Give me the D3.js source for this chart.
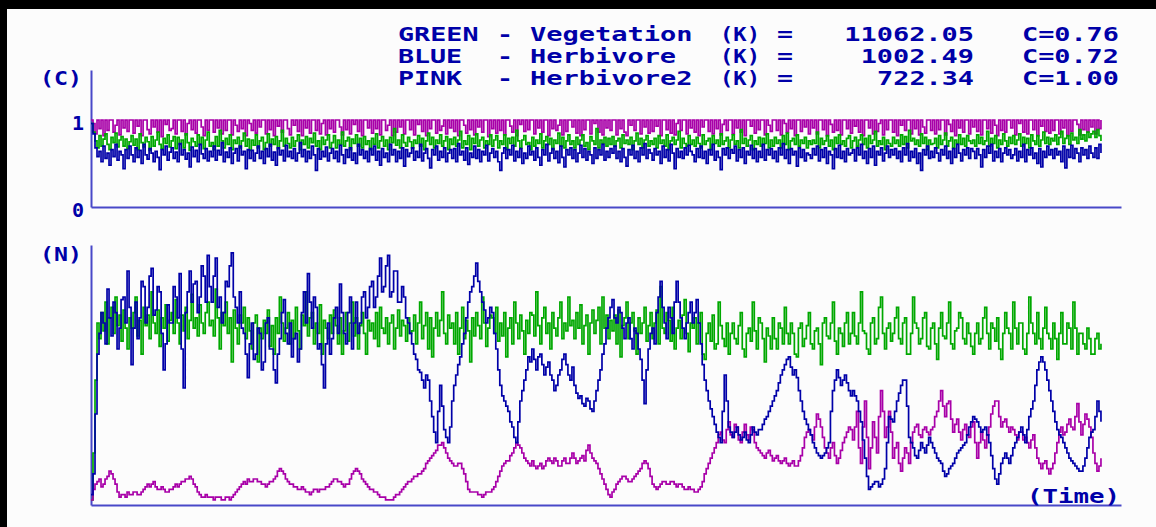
<!DOCTYPE html>
<html>
<head>
<meta charset="utf-8">
<script src="https://cdn.jsdelivr.net/npm/d3@7"></script>
<style>
html, body { margin: 0; padding: 0; background: #fcfcfc; }
svg { display: block; }
.lbl { font-family: "DejaVu Sans Mono", monospace; font-weight: bold; fill: #0000a8; white-space: pre; }
</style>
</head>
<body>
<div id="chart"></div>
<script>
// legend rows
const legendNames = ["GREEN", "BLUE", "PINK"];
const legendSpecies = ["Vegetation", "Herbivore", "Herbivore2"];
const legendK = ["11062.05", "1002.49", "722.34"];
const legendC = ["C=0.76", "C=0.72", "C=1.00"];
const cTicks = [0, 100];   // C in percent, shown as 0 and 1

// upper panel, C (percent), one value per time step (20 steps per row)
const cPink = [
  100,96,84,100,90,100,82,100,88,100,100,86,94,100,83,100,91,100,87,100,
  100,85,100,93,100,82,100,100,89,84,100,92,100,86,100,81,100,95,100,88,
  90,100,84,100,100,87,100,83,96,100,89,100,85,100,100,92,82,100,88,100,
  100,86,100,91,100,84,100,88,100,100,83,100,94,87,100,90,100,82,100,96,
  88,100,85,100,92,100,100,84,100,89,100,82,100,93,100,86,100,100,90,83,
  100,94,100,87,100,82,100,91,100,85,100,100,88,100,84,96,100,83,100,90,
  100,86,100,100,92,83,100,89,100,84,100,95,100,87,100,82,100,100,91,100,
  85,100,90,100,83,100,100,88,94,100,82,100,86,100,92,100,84,100,100,89,
  100,83,100,95,100,87,100,82,100,90,100,100,85,100,88,93,100,84,100,91,
  100,87,100,82,100,100,94,85,100,89,100,83,100,92,100,86,100,100,81,100,
  90,100,85,100,88,100,83,100,100,93,86,100,82,100,95,100,87,100,89,100,
  100,84,100,91,100,86,100,100,82,100,90,100,88,94,100,83,100,87,100,100,
  92,100,85,100,82,100,89,100,100,84,100,96,100,86,100,83,100,91,100,88,
  100,100,83,100,90,100,86,82,100,94,100,88,100,100,84,100,92,100,85,100,
  87,100,93,100,82,100,100,89,100,85,100,83,96,100,88,100,100,84,100,91,
  100,86,100,82,100,92,100,100,87,100,84,100,90,100,83,95,100,88,100,100,
  84,100,91,100,86,100,82,100,100,93,100,85,100,89,100,100,83,100,94,87,
  100,100,88,100,83,100,96,86,100,90,100,82,100,100,87,100,92,100,84,100,
  91,100,84,100,100,89,100,82,100,95,86,100,88,100,83,100,100,90,100,85,
  100,93,100,86,100,82,100,100,91,100,84,100,87,96,100,83,100,89,100,100,
  86,100,82,100,94,100,88,100,100,84,100,90,100,83,100,92,85,100,100,88,
  100,84,100,89,100,100,83,100,95,87,100,82,100,91,100,86,100,100,84,100,
  92,100,87,100,83,100,100,90,100,85,100,94,82,100,88,100,86,100,100,91,
  100,83,100,96,100,86,100,84,100,100,89,100,82,100,93,100,87,100,85,100,
  88,100,100,84,100,91,100,82,100,87,100,100,95,83,100,89,100,86,100,92,
  100,84,100,90,100
];
const cGreen = [
  96,86,76,68,82,70,78,84,72,66,80,74,85,69,77,81,70,78,67,75,
  82,71,78,66,84,74,69,80,75,65,81,70,77,86,72,67,79,73,83,69,
  76,81,67,80,72,77,68,84,74,65,79,75,70,83,72,80,67,77,86,70,
  74,66,81,70,88,76,68,79,72,83,66,77,73,80,68,76,85,70,78,65,
  77,71,83,68,76,80,66,74,84,70,78,72,81,67,76,88,70,79,73,68,
  80,70,76,83,66,77,72,81,68,79,74,85,70,76,66,80,72,77,83,68,
  74,82,68,77,72,86,70,76,80,66,78,73,83,70,79,68,81,72,76,66,
  79,72,84,68,76,81,70,77,66,80,74,90,71,77,68,83,74,70,80,75,
  68,77,73,82,70,79,66,76,85,72,80,68,77,73,83,70,76,81,66,78,
  72,80,70,77,87,68,76,72,82,66,79,73,84,70,77,80,68,76,72,83,
  70,77,82,68,76,72,83,66,79,73,80,70,88,76,68,77,82,72,74,66,
  80,70,77,73,84,68,76,81,72,79,66,77,73,85,70,80,68,76,83,72,
  76,68,80,72,77,83,70,74,66,81,76,72,90,68,77,73,80,70,79,72,
  81,70,76,79,68,83,73,77,72,80,66,76,85,72,79,68,77,82,70,76,
  72,79,68,82,73,77,70,83,66,76,80,72,77,87,68,79,73,70,82,72,
  77,70,80,73,68,83,72,76,79,66,82,73,77,70,84,72,76,80,68,77,
  83,72,76,68,89,73,79,70,77,82,66,76,72,80,70,79,73,84,68,77,
  70,80,73,77,68,82,72,85,66,76,79,72,83,70,77,73,80,68,76,72,
  77,73,86,68,79,72,76,82,70,77,66,80,73,83,72,76,70,79,82,68,
  76,80,70,77,83,72,79,68,82,73,77,87,70,76,72,80,66,77,73,70,
  80,73,77,70,83,72,81,68,88,76,79,72,77,70,84,73,80,66,77,72,
  73,79,68,82,72,77,85,70,76,80,68,77,73,83,72,79,70,82,76,73,
  77,70,83,73,80,72,76,87,70,79,73,82,68,77,72,84,76,70,80,73,
  82,72,77,84,70,80,73,79,68,83,76,72,82,70,77,86,73,80,72,79,
  76,83,72,80,87,73,79,82,72,85,77,80,73,89,78,83,76,86,80,84,
  87,80,89,82,76
];
const cBlue = [
  96,84,68,58,64,52,70,56,62,48,66,58,72,54,64,60,44,66,56,70,
  60,52,68,57,65,50,72,60,55,67,62,52,64,57,43,66,60,70,54,63,
  68,56,63,52,73,60,66,55,62,46,69,58,65,52,72,61,56,67,53,64,
  58,70,54,65,60,74,52,63,57,68,50,62,67,53,70,60,64,44,66,56,
  65,53,62,70,56,64,50,67,58,72,54,63,48,68,60,65,53,71,58,64,
  56,67,53,62,74,58,66,52,64,56,70,60,42,67,55,64,58,69,53,62,
  67,56,64,52,71,60,50,66,57,68,54,62,50,72,60,66,56,64,52,67,
  60,70,54,64,48,67,57,62,52,72,60,66,52,64,56,68,47,66,58,62,
  68,54,64,57,72,53,62,67,56,45,66,60,70,54,64,57,68,52,62,66,
  56,67,52,73,60,64,54,68,49,62,57,70,56,66,52,64,60,71,53,62,
  67,57,64,52,42,62,68,56,66,60,71,53,64,57,67,50,62,56,70,60,
  64,54,68,57,48,66,60,72,53,62,67,56,64,51,70,57,46,66,60,68,
  56,66,52,62,71,57,67,54,64,60,50,68,56,66,60,72,54,64,57,67,
  62,70,56,64,52,67,57,47,66,60,71,56,64,52,68,60,73,56,66,62,
  54,67,60,64,50,70,57,66,53,72,62,44,67,57,64,56,68,60,71,64,
  60,52,67,57,70,56,64,50,66,60,72,54,64,57,43,67,60,68,56,66,
  62,70,53,66,57,68,50,64,60,71,56,67,52,64,57,72,54,66,60,67,
  56,64,52,68,60,73,56,66,50,67,60,64,47,68,57,66,53,62,60,56,
  67,60,70,53,66,57,68,50,64,60,44,67,57,71,56,64,52,67,60,62,
  66,53,68,60,72,56,64,50,67,57,70,48,64,60,68,53,62,70,57,66,
  60,67,56,64,52,68,60,73,53,64,57,67,50,62,42,66,60,70,56,64,
  57,68,62,53,66,60,70,56,64,50,67,57,72,62,53,66,60,68,56,67,
  64,56,67,60,46,66,57,70,62,72,53,64,57,67,52,62,68,60,66,56,
  60,67,53,64,57,72,52,66,60,68,56,62,50,67,46,64,57,70,60,66,
  56,67,60,64,52,70,45,66,57,71,56,67,62,52,68,60,66,56,70,62,
  57,68,56,72,62
];

// lower panel, N (percent of axis height), same time steps
const nGreen = [
  2,20,48,70,64,74,67,78,62,72,76,66,80,69,73,63,75,68,60,72,
  68,74,80,65,71,58,76,69,73,64,82,70,66,75,61,72,68,77,63,71,
  74,66,79,70,62,73,67,76,64,71,81,68,72,65,77,70,66,74,78,69,
  71,65,83,72,60,74,69,78,66,72,55,75,68,62,73,70,76,64,72,67,
  60,70,73,55,68,64,71,66,75,61,69,58,72,66,80,70,63,68,74,62,
  71,64,76,67,60,73,69,82,65,72,74,62,70,66,77,58,71,68,64,73,
  66,75,69,62,72,58,67,74,63,70,78,65,72,60,69,74,66,58,71,67,
  70,64,74,61,76,68,66,72,62,70,73,60,68,75,65,71,69,63,72,66,
  67,73,62,70,78,64,69,74,60,72,57,68,74,65,71,82,66,62,73,68,
  70,62,74,58,68,76,64,71,67,55,72,65,74,69,64,80,70,61,68,73,
  72,66,76,63,70,65,74,57,68,72,62,78,70,64,73,67,58,71,66,74,
  73,65,82,69,62,72,76,66,70,60,74,68,65,72,78,64,70,67,80,69,
  71,64,74,68,77,62,69,73,58,70,75,66,71,76,62,80,68,73,64,71,
  67,73,62,75,57,69,72,78,64,70,74,67,58,72,66,70,76,63,69,74,
  64,70,75,62,84,68,66,74,71,63,76,60,68,71,64,73,79,66,59,70,
  68,72,62,70,74,58,56,66,70,63,73,60,62,78,69,64,61,70,58,66,
  70,64,62,69,74,60,57,66,68,63,78,67,60,72,70,64,55,68,65,60,
  72,64,60,70,68,62,76,66,62,70,66,58,57,68,70,61,64,69,74,62,
  60,67,68,62,54,70,72,65,64,70,78,63,58,68,66,61,70,74,62,66,
  74,65,62,70,82,67,66,60,58,70,72,62,64,76,80,66,60,68,70,63,
  66,72,76,64,62,70,72,58,58,66,80,70,68,62,64,72,74,61,60,68,
  70,62,56,68,74,65,64,70,78,62,60,67,68,74,72,64,62,70,66,61,
  58,66,70,62,64,72,76,66,60,70,68,63,72,60,56,66,74,68,66,60,
  78,68,62,70,70,60,58,66,80,70,66,62,74,64,60,68,76,66,64,60,
  70,64,56,66,74,62,62,70,68,60,78,68,58,66,66,62,60,68,64,58,
  58,64,66,60,62
];
const nBlue = [
  4,12,35,58,66,74,70,62,83,72,65,78,74,60,68,79,80,70,90,76,
  54,68,78,64,72,86,84,70,76,88,91,73,75,84,82,66,52,62,77,70,
  70,84,80,72,89,60,45,74,82,90,78,85,86,74,80,92,88,78,96,84,
  78,88,95,76,80,70,74,86,84,92,97,80,76,70,82,68,66,58,49,62,
  70,56,58,68,66,52,55,70,72,60,60,52,47,58,64,74,79,66,62,70,
  57,64,66,55,60,74,82,70,89,78,68,80,76,60,62,54,45,62,70,58,
  64,72,76,66,85,74,66,62,74,80,60,70,78,66,70,80,82,72,76,84,
  86,76,80,88,95,82,84,92,96,80,82,90,90,78,78,84,80,72,70,66,
  62,58,56,52,51,48,45,50,48,40,34,28,24,36,46,38,29,26,24,30,
  40,46,50,54,57,62,66,72,78,82,84,88,93,86,82,78,75,70,72,76,
  74,66,60,52,46,42,40,38,36,32,30,26,24,32,40,44,48,52,57,55,
  60,56,52,57,58,54,50,53,55,50,48,44,46,50,52,56,58,54,50,48,
  53,46,43,41,42,39,38,41,40,37,36,40,44,48,52,58,62,68,72,76,
  79,72,70,76,74,68,64,70,72,64,60,68,66,60,56,48,39,52,60,66,
  68,62,74,80,86,76,70,64,76,72,66,78,86,78,72,68,64,70,74,78,
  70,74,79,70,62,54,48,44,40,37,34,31,28,26,24,36,50,40,30,28,
  26,28,30,27,25,26,28,25,24,27,30,28,27,29,29,31,33,34,36,38,
  40,42,44,47,50,52,54,56,57,53,50,52,49,44,40,36,33,31,29,27,
  24,22,20,19,18,19,20,22,24,36,44,48,52,49,46,48,50,47,44,42,
  44,42,40,36,32,25,18,11,6,7,8,9,9,7,8,10,14,24,34,33,
  32,36,40,43,46,48,48,38,26,24,22,19,18,21,24,22,20,23,26,24,
  22,20,18,17,16,13,11,12,14,15,16,18,20,21,22,23,24,27,30,32,
  34,33,32,30,28,29,30,27,24,19,14,10,8,12,16,18,20,18,16,19,
  22,24,26,28,30,27,24,29,34,37,40,46,52,55,57,55,52,48,44,40,
  36,32,29,27,26,24,22,20,18,17,16,15,14,13,13,15,18,22,26,28,
  29,34,40,36,32
];
const nPink = [
  2,6,8,9,10,7,8,10,11,13,12,10,8,5,3,4,4,3,5,4,
  4,5,5,4,4,5,6,7,8,7,8,9,7,6,6,7,6,5,5,6,
  6,7,8,7,8,9,9,10,10,11,10,8,7,5,4,3,3,4,3,3,
  3,2,3,3,3,2,2,3,3,2,3,4,5,6,7,8,9,8,10,9,
  9,10,10,9,9,8,8,7,8,9,9,10,11,13,14,13,12,10,9,8,
  8,7,7,6,6,7,6,5,5,4,5,6,6,5,6,6,6,7,7,8,
  9,10,10,9,9,8,7,8,8,10,12,13,14,13,12,10,9,8,7,6,
  6,5,5,4,3,3,3,2,2,2,2,3,4,4,5,6,7,8,9,9,
  10,11,11,12,12,13,14,16,17,18,19,20,21,23,23,24,22,20,18,17,
  16,15,15,16,16,14,12,9,6,5,5,5,5,4,4,3,4,5,5,5,
  6,7,9,11,13,15,16,17,17,19,20,22,24,23,22,20,18,17,16,15,
  17,15,14,15,16,14,15,17,18,17,16,18,17,15,15,17,18,16,16,18,
  20,18,16,17,18,19,17,21,23,20,18,17,16,14,12,10,8,6,4,3,
  5,6,8,9,10,11,11,10,9,9,10,11,12,13,14,16,17,16,14,11,
  8,7,6,7,8,9,9,8,8,9,9,8,7,8,8,7,6,6,7,6,
  6,5,5,6,7,9,12,14,16,18,20,22,24,27,28,25,24,29,32,27,
  26,31,30,25,24,28,31,27,25,30,29,24,22,21,20,19,18,20,21,19,
  17,18,19,17,16,17,18,16,15,16,17,15,15,17,19,22,26,28,29,27,
  25,30,35,33,30,26,22,20,18,22,24,19,16,18,21,24,26,28,30,29,
  25,30,36,22,16,30,40,26,14,22,32,26,20,34,44,36,26,30,36,28,
  18,22,24,16,13,18,22,20,16,24,28,30,31,27,26,29,30,28,27,29,
  30,34,36,40,44,38,34,39,40,33,28,31,33,28,25,29,31,27,26,30,
  32,24,18,24,28,25,22,27,30,35,38,40,40,34,30,32,33,30,28,30,
  29,27,25,28,28,25,26,24,22,25,27,22,18,16,14,16,17,14,12,14,
  16,20,24,28,30,27,28,31,33,30,29,34,39,32,27,31,35,33,30,26,
  20,16,13,15,18
];

const W = 1156, H = 527;
const green = "#00a800", blue = "#0000a8", pink = "#a800a8", axisCol = "#4848c8";

const svg = d3.select("#chart").append("svg")
    .attr("width", W)
    .attr("height", H);

svg.append("rect").attr("width", W).attr("height", H).attr("fill", "#fcfcfc");
// black frame top + left
svg.append("rect").attr("x", 0).attr("y", 0).attr("width", W).attr("height", 9).attr("fill", "#000");
svg.append("rect").attr("x", 0).attr("y", 0).attr("width", 7).attr("height", H).attr("fill", "#000");

var x = d3.scaleLinear().domain([0, 514]).range([91, 1121]);
var yC = d3.scaleLinear().domain([0, 157.5]).range([207, 70]);
var yN = d3.scaleLinear().domain([0, 100]).range([505, 245]);

function styleAxis(g) {
    g.select(".domain").attr("stroke", axisCol).attr("stroke-width", 2);
    g.selectAll("text")
        .attr("class", "lbl")
        .style("font-size", "20px");
}

// axes
svg.append("g").attr("transform", "translate(0,207)")
    .call(d3.axisBottom(x).tickValues([]).tickSizeOuter(0))
    .call(styleAxis);
svg.append("g").attr("transform", "translate(0,505)")
    .call(d3.axisBottom(x).tickValues([]).tickSizeOuter(0))
    .call(styleAxis);
svg.append("g").attr("transform", "translate(91,0)")
    .call(d3.axisLeft(yC).tickValues(cTicks).tickSize(0).tickSizeOuter(0).tickPadding(7).tickFormat(d => d / 100))
    .call(styleAxis)
    .selectAll("text").attr("dy", "0.45em");
svg.append("g").attr("transform", "translate(91,0)")
    .call(d3.axisLeft(yN).tickValues([]).tickSizeOuter(0))
    .call(styleAxis);

// series, stepped like the pixel plot of the original
function drawLine(data, yScale, color) {
    svg.append("path")
        .datum(data)
        .attr("fill", "none")
        .attr("stroke", color)
        .attr("stroke-width", 1.7)
        .attr("d", d3.line().curve(d3.curveStepAfter).x((d, i) => x(i)).y(d => yScale(d)));
}
drawLine(cPink, yC, pink);
drawLine(cGreen, yC, green);
drawLine(cBlue, yC, blue);

drawLine(nGreen, yN, green);
drawLine(nPink, yN, pink);
drawLine(nBlue, yN, blue);

// axis captions
function label(txt, x0, y0, len, size) {
    svg.append("text")
        .attr("class", "lbl")
        .attr("x", x0).attr("y", y0)
        .attr("textLength", len)
        .attr("lengthAdjust", "spacingAndGlyphs")
        .style("font-size", (size || 20) + "px")
        .text(txt);
}
label("(C)", 40, 85, 42, 19);
label("(N)", 40, 261, 42, 19);
label("(Time)", 1027, 503, 93, 20);

// legend block
const rowY = [41, 63, 85];
const pitch = 16.4;
legendNames.forEach(function (name, i) {
    var yy = rowY[i];
    label(name, 398, yy, name.length * pitch - 1.5);
    label("-", 497, yy, 16);
    label(legendSpecies[i], 530, yy, legendSpecies[i].length * pitch - 1.5);
    label("(K)", 720, yy, 40);
    label("=", 777, yy, 16);
    svg.append("text")
        .attr("class", "lbl")
        .attr("x", 974).attr("y", yy)
        .attr("text-anchor", "end")
        .attr("textLength", legendK[i].length * pitch - 1.5)
        .attr("lengthAdjust", "spacingAndGlyphs")
        .style("font-size", "20px")
        .text(legendK[i]);
    label(legendC[i], 1022, yy, legendC[i].length * pitch - 1.5);
});
</script>
</body>
</html>
